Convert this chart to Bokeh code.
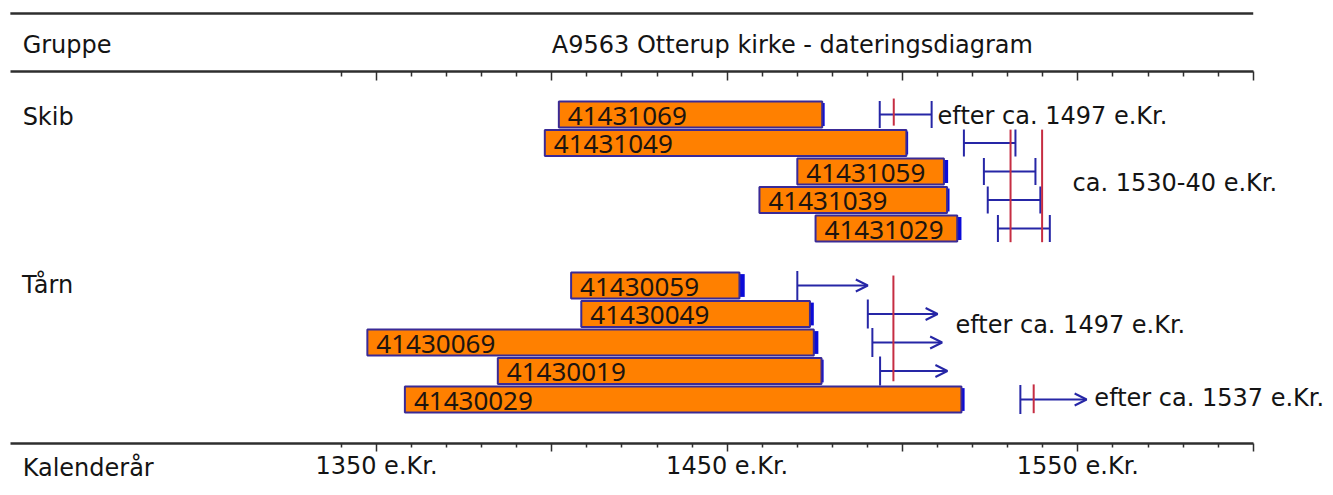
from bokeh.plotting import figure
from bokeh.models import (Range1d, LinearAxis, FixedTicker, ColumnDataSource,
                          Arrow, OpenHead, TeeHead)
from bokeh.core.properties import value
from bokeh.embed import file_html
from bokeh.resources import INLINE

# ---------------- data ----------------
title_text = "A9563 Otterup kirke - dateringsdiagram"
group_header = "Gruppe"
axis_header = "Kalenderår"

groups = ["Skib", "Tårn"]
group_label_rows = [0.105, 5.97]
group_label_x = [1249.1, 1248.9]

sample_ids = ["41431069", "41431049", "41431059", "41431039", "41431029",
              "41430059", "41430049", "41430069", "41430019", "41430029"]
sample_rows = [0, 1, 2, 3, 4, 6, 7, 8, 9, 10]
ring_start = [1402.0, 1398.0, 1470.0, 1459.2, 1475.2,
              1405.5, 1408.4, 1347.4, 1384.6, 1358.1]
ring_end = [1477.1, 1501.1, 1511.8, 1512.7, 1515.6,
            1453.5, 1473.6, 1474.7, 1476.9, 1516.8]
sap_end = [1477.8, 1501.6, 1513.0, 1513.4, 1516.8,
           1455.0, 1474.7, 1476.0, 1477.5, 1517.7]

# Skib felling intervals
interval_rows = [0, 1, 2, 3, 4]
interval_lo = [1493.5, 1517.5, 1523.2, 1524.3, 1527.2]
interval_hi = [1508.3, 1532.2, 1537.9, 1539.3, 1542.0]

# Tårn "efter" (after) arrows
after_rows = [6, 7, 8, 9, 10]
after_from = [1470.0, 1490.1, 1491.4, 1493.6, 1533.6]
after_to = [1490.1, 1510.0, 1511.3, 1512.8, 1552.5]

# red dating marks
date_year = [1497.5, 1530.8, 1539.8, 1497.4, 1537.4]
date_row_top = [-0.56, 0.53, 0.53, 5.65, 9.47]
date_row_bottom = [0.39, 4.48, 4.48, 9.36, 10.48]

note_texts = ["efter ca. 1497 e.Kr.", "ca. 1530-40 e.Kr.",
              "efter ca. 1497 e.Kr.", "efter ca. 1537 e.Kr."]
note_x = [1510.0, 1548.5, 1515.1, 1554.7]
note_rows = [0.064, 2.40, 7.40, 9.935]

major_ticks = [1350, 1400, 1450, 1500, 1550, 1600]
minor_ticks = [1340, 1360, 1370, 1380, 1390, 1410, 1420, 1430, 1440,
               1460, 1470, 1480, 1490, 1510, 1520, 1530, 1540,
               1560, 1570, 1580, 1590]
tick_labels = ["1350 e.Kr.", "", "1450 e.Kr.", "", "1550 e.Kr.", ""]
axis_bounds = [1245.6, 1600]

top_rule_row = -3.544
header_row = -2.456
ruler_row = -1.509
bottom_axis_row = 11.53
footer_row = 12.386
title_x = 1468.6

# ---------------- style ----------------
ORANGE = "#ff8000"
OUTLINE = "#3a2a96"
SAP = "#0b0bd8"
BLUE = "#2626a6"
RED = "#c62d42"
INK = "#141414"
RULE = "#2e2e2e"
COMIC = "DejaVu Sans"

p = figure(width=1333, height=495,
           x_range=Range1d(1242.79, 1622.89), y_range=Range1d(13.368, -4.0),
           output_backend="svg", toolbar_location=None,
           x_axis_type=None, y_axis_type=None, min_border=0)
p.outline_line_color = None
p.background_fill_color = "white"
p.border_fill_color = "white"


def make_axis(location, labels):
    ax = LinearAxis(ticker=FixedTicker(ticks=major_ticks, minor_ticks=minor_ticks),
                    bounds=tuple(axis_bounds), fixed_location=location)
    ax.axis_line_color = RULE
    ax.axis_line_width = 2.5
    ax.major_tick_line_color = RULE
    ax.major_tick_line_width = 1.5
    ax.minor_tick_line_color = RULE
    ax.minor_tick_line_width = 1.5
    ax.major_tick_in = 0
    ax.minor_tick_in = 0
    ax.major_label_overrides = dict(zip(major_ticks, labels))
    ax.major_label_text_font = COMIC
    ax.major_label_text_color = INK
    return ax


ruler = make_axis(ruler_row, [""] * len(major_ticks))
ruler.major_tick_out = 9
ruler.minor_tick_out = 5
ruler.major_label_text_font_size = "1px"
p.add_layout(ruler, "below")

xaxis = make_axis(bottom_axis_row, tick_labels)
xaxis.major_tick_out = 8
xaxis.minor_tick_out = 4
xaxis.major_label_text_font_size = "24px"
xaxis.major_label_standoff = 1
p.add_layout(xaxis, "below")

# top rule line
p.segment(x0=[axis_bounds[0]], y0=[top_rule_row], x1=[axis_bounds[1]], y1=[top_rule_row],
          line_color=RULE, line_width=2.5)

# header / footer texts
p.text(x=[group_label_x[0], group_label_x[0]], y=[header_row, footer_row],
       text=[group_header, axis_header], text_font=value(COMIC),
       text_font_size="24px", text_color=INK, text_baseline="middle")
p.text(x=[title_x], y=[header_row], text=[title_text], text_font=value(COMIC),
       text_font_size="24px", text_color=INK, text_baseline="middle", text_align="center")

# group labels
p.text(x=group_label_x, y=group_label_rows, text=groups, text_font=value(COMIC),
       text_font_size="24px", text_color=INK, text_baseline="middle")

# bars
bars = ColumnDataSource(dict(id=sample_ids, row=sample_rows, start=ring_start,
                             end=ring_end, sap=sap_end))
p.hbar(y="row", left="end", right="sap", height=0.8, source=bars,
       fill_color=SAP, line_color=None)
p.hbar(y="row", left="start", right="end", height=0.91, source=bars,
       fill_color=ORANGE, line_color=OUTLINE, line_width=2)
p.text(x="start", y="row", text="id", source=bars, x_offset=9, y_offset=1,
       text_font=value("Noto Sans"), text_font_size="26px", text_color="#1c1410",
       text_baseline="middle")

# Skib intervals
iv = ColumnDataSource(dict(row=interval_rows, lo=interval_lo, hi=interval_hi))
p.add_layout(Arrow(source=iv, x_start="lo", y_start="row", x_end="hi", y_end="row",
                   line_color=BLUE, line_width=2,
                   start=TeeHead(size=27, line_color=BLUE, line_width=2),
                   end=TeeHead(size=27, line_color=BLUE, line_width=2)))

# Tårn arrows
af = ColumnDataSource(dict(row=after_rows, x0=after_from, x1=after_to))
p.add_layout(Arrow(source=af, x_start="x0", y_start="row", x_end="x1", y_end="row",
                   line_color=BLUE, line_width=2,
                   start=TeeHead(size=29, line_color=BLUE, line_width=2),
                   end=OpenHead(size=12, line_color=BLUE, line_width=2)))

# red dating marks
p.segment(x0=date_year, y0=date_row_top, x1=date_year, y1=date_row_bottom,
          line_color=RED, line_width=2, level="overlay")

# notes
p.text(x=note_x, y=note_rows, text=note_texts, text_font=value(COMIC),
       text_font_size="24px", text_color=INK, text_baseline="middle")

open("out.html", "w").write(file_html(p, INLINE))
